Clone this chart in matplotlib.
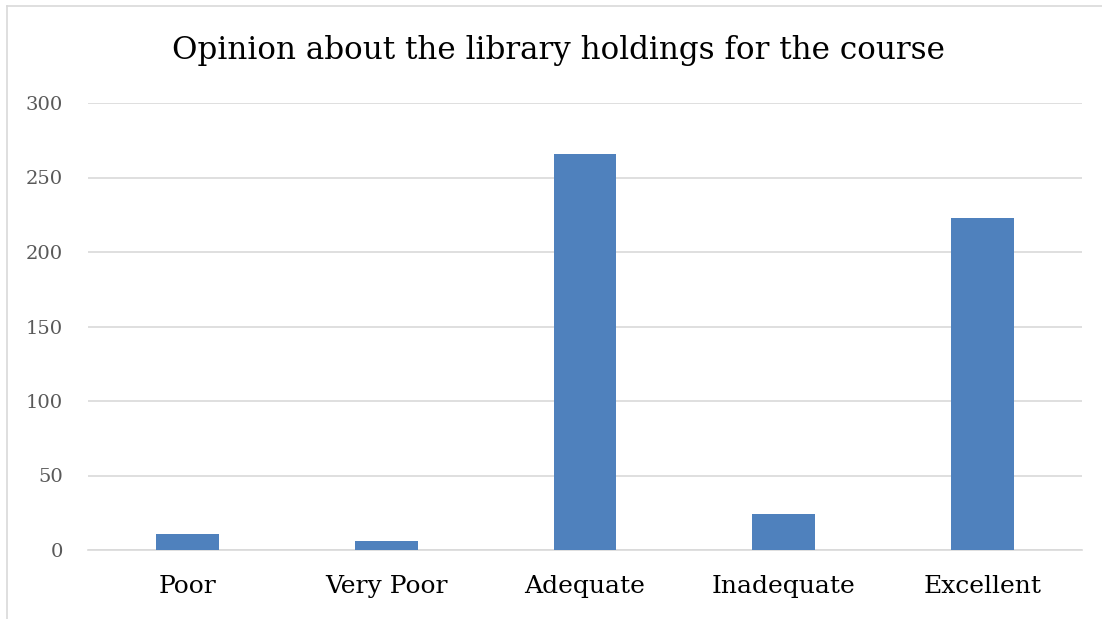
import matplotlib
matplotlib.use("Agg")
import matplotlib.pyplot as plt
from matplotlib.lines import Line2D

categories = ["Poor", "Very Poor", "Adequate", "Inadequate", "Excellent"]
values = [11, 6, 266, 24, 223]
yticks = [0, 50, 100, 150, 200, 250, 300]
title = "Opinion about the library holdings for the course"

W, H = 1102, 619
fig = plt.figure(figsize=(W / 100, H / 100), dpi=100)
ax = fig.add_axes([88 / W, 1 - 550 / H, (1082 - 88) / W, (550 - 103) / H])

serif = ["DejaVu Serif"]
x = range(len(categories))
ax.bar(x, values, width=0.315, color="#4f81bd", zorder=3)
ax.set_xlim(-0.5, len(categories) - 0.5)
ax.set_ylim(0, 300)
ax.set_yticks(yticks)
ax.set_yticklabels([str(v) for v in yticks], family=serif, fontsize=14, color="#595959")
ax.set_xticks(list(x))
ax.set_xticklabels(categories, family=serif, fontsize=18, color="black")
ax.tick_params(axis="both", length=0)
ax.tick_params(axis="y", pad=18)
ax.tick_params(axis="x", pad=18)
ax.grid(axis="y", color="#d9d9d9", linewidth=1.2, zorder=0)
for s in ["top", "right", "left"]:
    ax.spines[s].set_visible(False)
ax.spines["bottom"].set_color("#d9d9d9")
ax.spines["bottom"].set_linewidth(1.2)

fig.text(559 / W, 1 - 50 / H, title, family=serif, fontsize=22.3, ha="center", va="center")

# outer chart border (left and top)
fig.add_artist(Line2D([7 / W, 7 / W], [0, 1 - 6 / H], transform=fig.transFigure, color="#d9d9d9", linewidth=1.2))
fig.add_artist(Line2D([7 / W, 1], [1 - 6 / H, 1 - 6 / H], transform=fig.transFigure, color="#d9d9d9", linewidth=1.2))

fig.savefig("out.png", dpi=100, facecolor="white")
